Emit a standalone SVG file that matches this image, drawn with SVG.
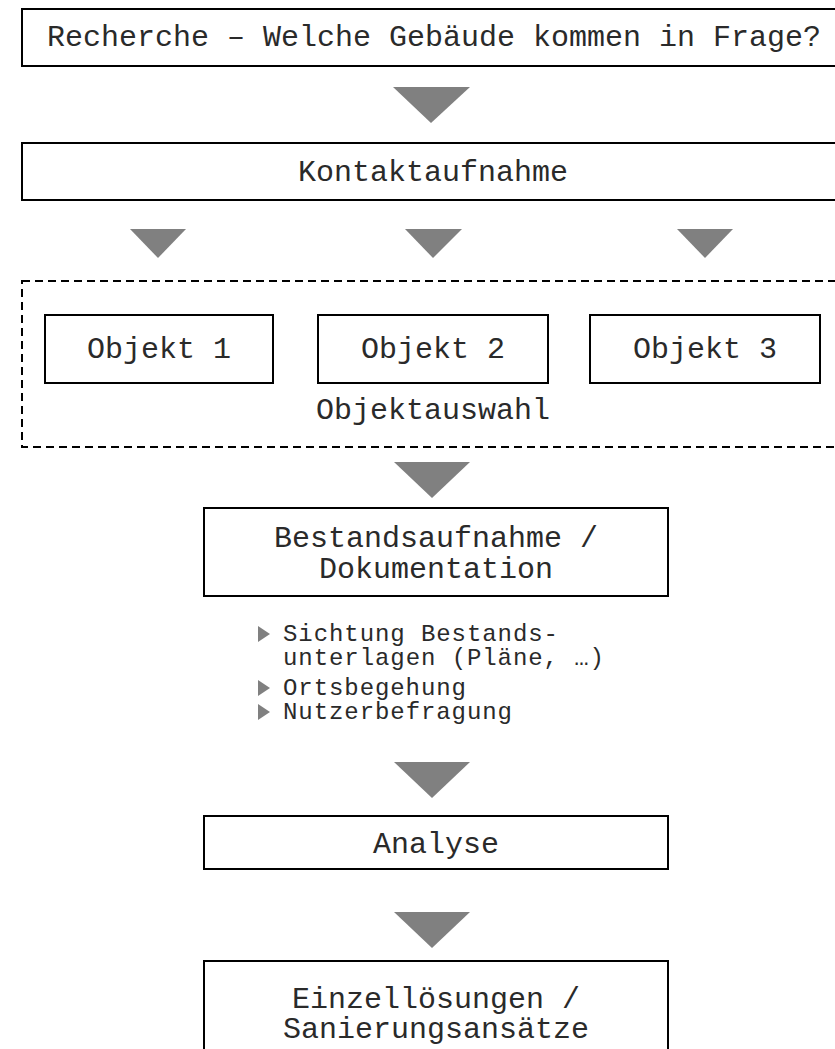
<svg xmlns="http://www.w3.org/2000/svg" width="835" height="1049" viewBox="0 0 835 1049">
<defs>
<style>
.box{fill:#fff;stroke:#000;stroke-width:2}
.dash{fill:none;stroke:#000;stroke-width:2;stroke-dasharray:8 5}
.t{font-family:"Liberation Mono","Courier New",monospace;font-size:30px;fill:#2a2a2a;text-anchor:middle}
.b{font-family:"Liberation Mono","Courier New",monospace;font-size:24px;fill:#2a2a2a}
.arr{fill:#808080}
</style>
</defs>
<rect width="835" height="1049" fill="#fff"/>
<g id="connectors">
<polygon class="arr" points="393,87 470,87 431,123"/>
<polygon class="arr" points="130,229 186,229 158,258"/>
<polygon class="arr" points="405,229 462,229 433,258"/>
<polygon class="arr" points="677,229 733,229 705,258"/>
<polygon class="arr" points="394,462 470,462 432,498"/>
<polygon class="arr" points="394,762 470,762 432,798"/>
<polygon class="arr" points="394,912 470,912 432,948"/>
</g>
<g id="n-recherche">
<rect class="box" x="22" y="9" width="830" height="57"/>
<text class="t" x="434" y="46">Recherche – Welche Gebäude kommen in Frage?</text>
</g>
<g id="n-kontakt">
<rect class="box" x="22" y="143" width="830" height="57"/>
<text class="t" x="433" y="181">Kontaktaufnahme</text>
</g>
<g id="n-objektauswahl">
<rect class="dash" x="22" y="281" width="830" height="166"/>
<text class="t" x="433" y="419">Objektauswahl</text>
</g>
<g id="n-objekt1">
<rect class="box" x="45" y="315" width="228" height="68"/>
<text class="t" x="159" y="358">Objekt 1</text>
</g>
<g id="n-objekt2">
<rect class="box" x="318" y="315" width="230" height="68"/>
<text class="t" x="433" y="358">Objekt 2</text>
</g>
<g id="n-objekt3">
<rect class="box" x="590" y="315" width="230" height="68"/>
<text class="t" x="705" y="358">Objekt 3</text>
</g>
<g id="n-bestand">
<rect class="box" x="204" y="508" width="464" height="88"/>
<text class="t" x="436" y="547">Bestandsaufnahme /</text>
<text class="t" x="436" y="578">Dokumentation</text>
</g>
<g id="n-bullets">
<polygon class="arr" points="258,626 258,642 270,634"/>
<polygon class="arr" points="258,680 258,696 270,688"/>
<polygon class="arr" points="258,704 258,720 270,712"/>
<text class="b" x="283" y="641" textLength="275">Sichtung Bestands-</text>
<text class="b" x="283" y="665" textLength="321">unterlagen (Pläne, …)</text>
<text class="b" x="283" y="695" textLength="183">Ortsbegehung</text>
<text class="b" x="283" y="719" textLength="229">Nutzerbefragung</text>
</g>
<g id="n-analyse">
<rect class="box" x="204" y="816" width="464" height="53"/>
<text class="t" x="436" y="853">Analyse</text>
</g>
<g id="n-einzel">
<rect class="box" x="204" y="961" width="464" height="100"/>
<text class="t" x="436" y="1008">Einzellösungen /</text>
<text class="t" x="436" y="1038">Sanierungsansätze</text>
</g>
</svg>
